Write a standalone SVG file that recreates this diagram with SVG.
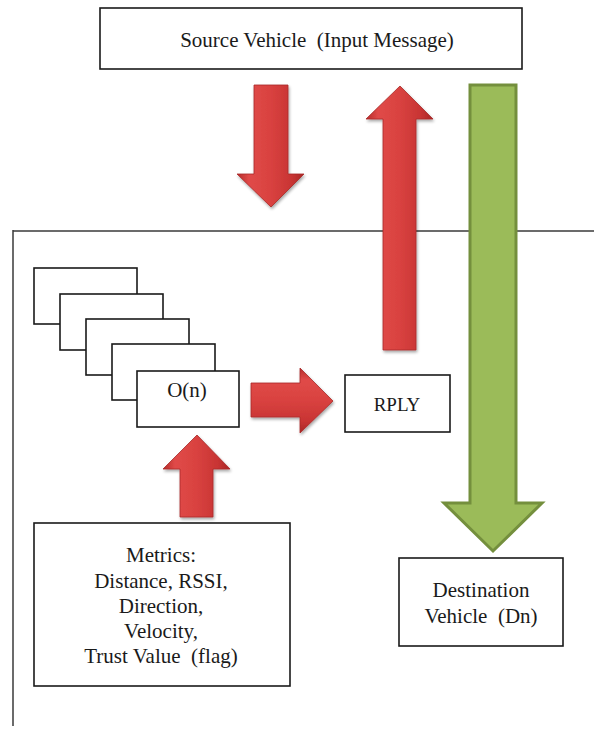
<svg xmlns="http://www.w3.org/2000/svg" width="594" height="729" viewBox="0 0 594 729">
<style>
.box{fill:#fff;stroke:#1a1a1a;stroke-width:1.6}
.frame{fill:none;stroke:#3a3a3a;stroke-width:1.5}
.t{font-family:'Liberation Serif',serif;font-size:21px;fill:#1a1a1a;text-anchor:middle;white-space:pre}
.red{stroke:#a82a28;stroke-width:0.8}
.green{fill:#9bbb59;stroke:#748f3d;stroke-width:3}
</style>
<defs>
<linearGradient id="gv" x1="0" y1="0" x2="1" y2="0">
<stop offset="0" stop-color="#b52c2b"/>
<stop offset="0.18" stop-color="#e04a48"/>
<stop offset="0.5" stop-color="#d94240"/>
<stop offset="0.82" stop-color="#c83433"/>
<stop offset="1" stop-color="#a82726"/>
</linearGradient>
<linearGradient id="gh" x1="0" y1="0" x2="0" y2="1">
<stop offset="0" stop-color="#b52c2b"/>
<stop offset="0.18" stop-color="#e04a48"/>
<stop offset="0.5" stop-color="#d94240"/>
<stop offset="0.82" stop-color="#c83433"/>
<stop offset="1" stop-color="#a82726"/>
</linearGradient>
<filter id="sh" x="-20%" y="-20%" width="140%" height="140%">
<feGaussianBlur in="SourceAlpha" stdDeviation="1.5"/>
<feOffset dx="1" dy="1.5" result="b"/>
<feComponentTransfer><feFuncA type="linear" slope="0.35"/></feComponentTransfer>
<feMerge><feMergeNode/><feMergeNode in="SourceGraphic"/></feMerge>
</filter>
</defs>

<g id="frame">
<line class="frame" x1="13" y1="231" x2="594" y2="231"/>
<line class="frame" x1="13" y1="230" x2="13" y2="726"/>
</g>

<g id="source">
<rect class="box" x="100" y="8" width="422" height="61"/>
<text class="t" x="317" y="47" font-family="Liberation Serif, serif" xml:space="preserve">Source Vehicle  (Input Message)</text>
</g>

<g id="stack">
<rect class="box" x="34" y="268" width="103" height="56"/>
<rect class="box" x="60" y="294" width="103" height="56"/>
<rect class="box" x="86" y="319" width="103" height="56"/>
<rect class="box" x="112" y="344" width="103" height="56"/>
</g>

<g id="on">
<rect class="box" x="137" y="371" width="102" height="56"/>
<text class="t" x="187" y="397" font-family="Liberation Serif, serif">O(n)</text>
</g>

<g id="rply">
<rect class="box" x="345" y="375" width="105" height="57"/>
<text class="t" x="397" y="411" font-family="Liberation Serif, serif" style="font-size:19px">RPLY</text>
</g>

<g id="metrics" font-family="Liberation Serif, serif">
<rect class="box" x="34" y="523" width="256" height="163"/>
<text class="t" x="161" y="562">Metrics:</text>
<text class="t" x="161" y="588">Distance, RSSI,</text>
<text class="t" x="161" y="613">Direction,</text>
<text class="t" x="161" y="638">Velocity,</text>
<text class="t" x="161" y="663" xml:space="preserve">Trust Value  (flag)</text>
</g>

<g id="destination" font-family="Liberation Serif, serif">
<rect class="box" x="399" y="558" width="164" height="88"/>
<text class="t" x="481" y="597">Destination</text>
<text class="t" x="481" y="623" xml:space="preserve">Vehicle  (Dn)</text>
</g>

<g id="connectors">
<path class="green" d="M470,85 H516 V503 H542 L493,551 L444,503 H470 Z"/>
<path class="red" fill="url(#gv)" filter="url(#sh)" d="M254,85 H288 V174 H304 L271,207 L237,174 H254 Z"/>
<path class="red" fill="url(#gv)" filter="url(#sh)" d="M400,86 L433,119 H416 V350 H383 V119 H366 Z"/>
<path class="red" fill="url(#gh)" filter="url(#sh)" d="M251,383 H300 V368 L333,401 L300,433 V417 H251 Z"/>
<path class="red" fill="url(#gv)" filter="url(#sh)" d="M197,435 L230,469 H213 V517 H180 V469 H163 Z"/>
</g>
</svg>
